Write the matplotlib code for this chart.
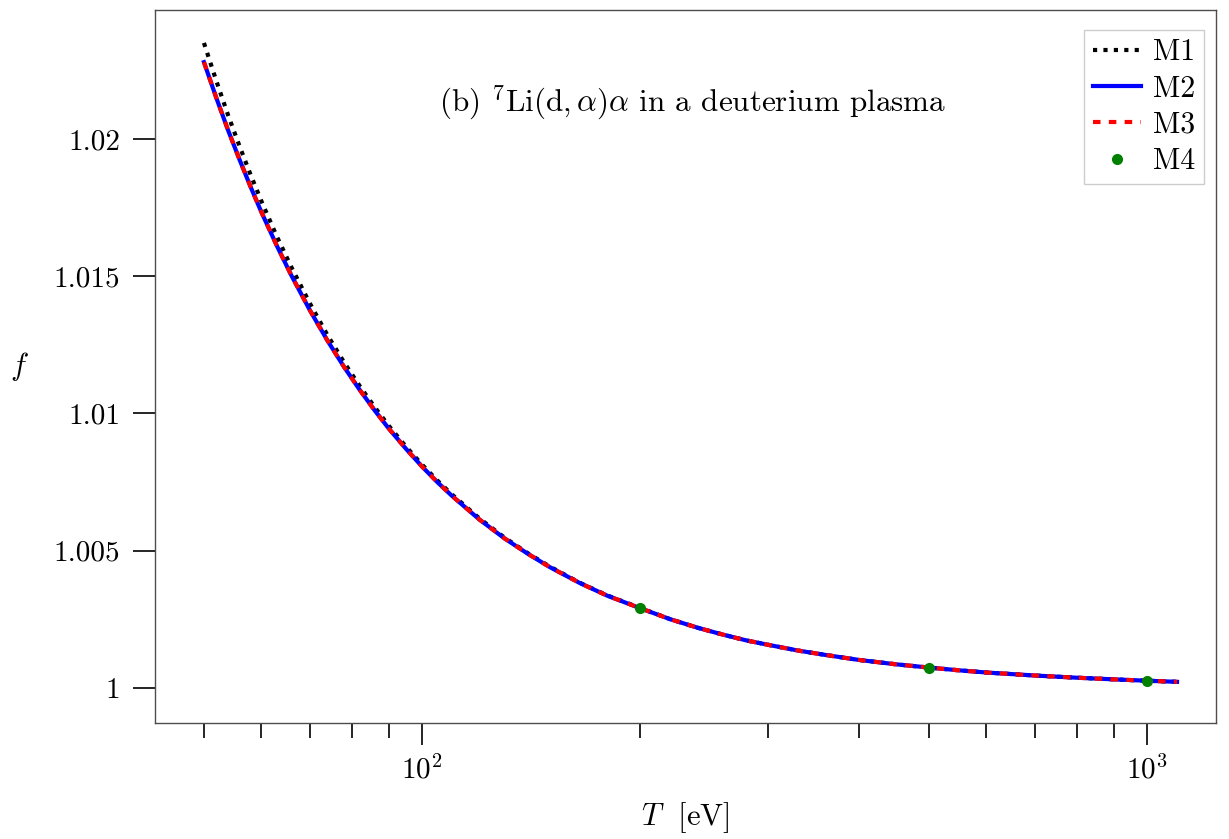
import matplotlib
matplotlib.use("Agg")
import matplotlib.pyplot as plt
from matplotlib.ticker import FixedLocator, FixedFormatter, LogLocator, NullFormatter

plt.rcParams['font.family'] = 'serif'
plt.rcParams['font.serif'] = ['cmr10', 'DejaVu Serif']
plt.rcParams['mathtext.fontset'] = 'cm'
plt.rcParams['axes.unicode_minus'] = False
plt.rcParams['axes.formatter.use_mathtext'] = True

# Temperature grid (eV) and values of f
T = [50, 52, 54, 56, 58, 60, 63, 66, 70, 74, 78, 82, 86, 90, 95, 100, 105, 110,
     120, 130, 140, 150, 165, 180, 200, 220, 240, 260, 280, 300, 330, 360, 400,
     450, 500, 550, 600, 700, 800, 900, 1000, 1100]
f_M2 = [1.02280, 1.02150, 1.02031, 1.01924, 1.01825, 1.01734, 1.01612, 1.01503,
        1.01376, 1.01266, 1.01170, 1.01086, 1.01011, 1.00944, 1.00871, 1.00806,
        1.00749, 1.00699, 1.00613, 1.00544, 1.00488, 1.00440, 1.00382, 1.00336,
        1.00290, 1.00250, 1.00219, 1.00194, 1.00173, 1.00157, 1.00136, 1.00120,
        1.00102, 1.00086, 1.00074, 1.00064, 1.00056, 1.00045, 1.00037, 1.00031,
        1.00026, 1.00022]
f_M1 = [1.02350, 1.02212, 1.02086, 1.01973, 1.01869, 1.01774, 1.01646, 1.01533,
        1.01401, 1.01286, 1.01187, 1.01100, 1.01023, 1.00954, 1.00879, 1.00813,
        1.00755, 1.00704, 1.00617, 1.00547, 1.00490, 1.00442, 1.00383, 1.00337,
        1.00291, 1.00250, 1.00219, 1.00194, 1.00173, 1.00157, 1.00136, 1.00120,
        1.00102, 1.00086, 1.00074, 1.00064, 1.00056, 1.00045, 1.00037, 1.00031,
        1.00026, 1.00022]
f_M3 = [1.02280, 1.02150, 1.02031, 1.01924, 1.01825, 1.01734, 1.01612, 1.01503,
        1.01376, 1.01266, 1.01170, 1.01086, 1.01011, 1.00944, 1.00871, 1.00806,
        1.00749, 1.00699, 1.00613, 1.00544, 1.00488, 1.00440, 1.00382, 1.00336,
        1.00290, 1.00250, 1.00219, 1.00194, 1.00173, 1.00157, 1.00136, 1.00120,
        1.00102, 1.00086, 1.00074, 1.00064, 1.00056, 1.00045, 1.00037, 1.00031,
        1.00026, 1.00022]
T_M4 = [200, 500, 1000]
f_M4 = [1.00291, 1.00074, 1.000255]

yticks = [1.0, 1.005, 1.01, 1.015, 1.02]
yticklabels = ['1', '1.005', '1.01', '1.015', '1.02']

fig = plt.figure(figsize=(12.29, 8.39), dpi=100)
ax = fig.add_axes([155/1229, 1 - 723/839, (1216-155)/1229, (723-10)/839])

ax.plot(T, f_M1, color='black', lw=3, linestyle=(0, (1, 1.5)), label='M1')
ax.plot(T, f_M2, color='blue', lw=3, linestyle='-', label='M2')
ax.plot(T, f_M3, color='red', lw=3, linestyle=(0, (1.8, 2.0)), label='M3')
ax.plot(T_M4, f_M4, 'o', color='green', ms=7, label='M4')

ax.set_xscale('log')
ax.set_xlim(42.8, 1245)
ax.set_ylim(0.99872, 1.0247)

ax.yaxis.set_major_locator(FixedLocator(yticks))
ax.yaxis.set_major_formatter(FixedFormatter(yticklabels))
ax.yaxis.set_minor_locator(FixedLocator([]))
ax.xaxis.set_major_locator(LogLocator(base=10))
ax.xaxis.set_minor_locator(LogLocator(base=10, subs=range(2, 10)))
ax.xaxis.set_minor_formatter(NullFormatter())

ax.tick_params(axis='both', which='major', direction='out', length=16, width=1.2,
               labelsize=21, pad=7)
ax.tick_params(axis='x', which='minor', direction='out', length=11, width=1.2)
ax.tick_params(axis='y', which='major', length=16, pad=9)
for s in ax.spines.values():
    s.set_color('0.3')
    s.set_linewidth(1.0)

ax.set_xlabel(r'$T\ $ [eV]', fontsize=22, labelpad=11)
ax.set_ylabel(r'$f$', fontsize=22, rotation=0, va='center', ha='center')
ax.yaxis.set_label_coords(-0.128, 0.5)

ax.text(0.268, 0.8696, r'(b) $^{7}\mathrm{Li}(\mathrm{d},\alpha)\alpha$ in a deuterium plasma',
        transform=ax.transAxes, fontsize=22.4, ha='left', va='center')

leg = ax.legend(loc='upper right', fontsize=21.5, fancybox=False, framealpha=1,
                edgecolor='0.8', handlelength=1.6, handletextpad=0.4,
                borderpad=0.3, labelspacing=0.3, borderaxespad=0.4,
                bbox_to_anchor=(1.0, 0.989))

fig.savefig('out.png', dpi=100)
